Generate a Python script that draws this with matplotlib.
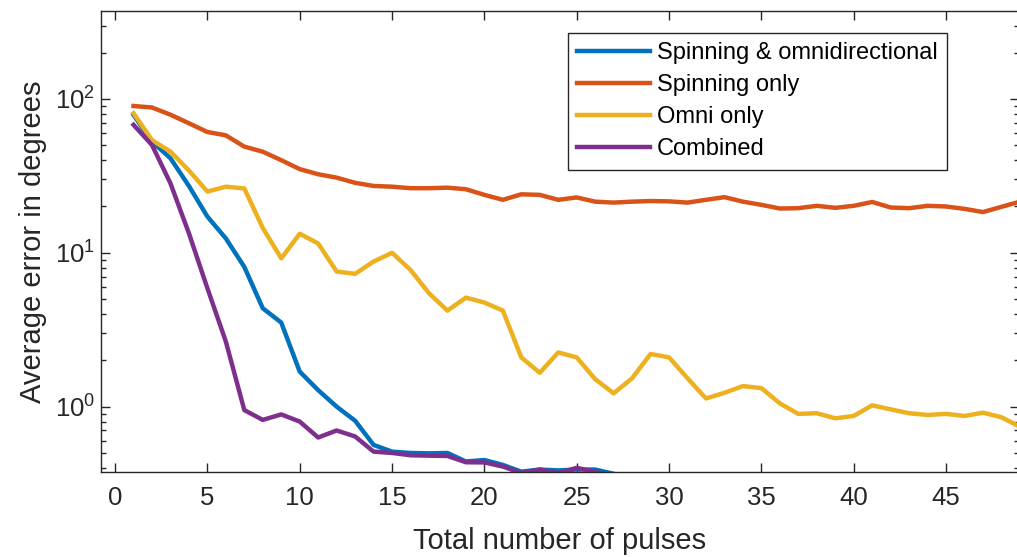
import numpy as np
import matplotlib.pyplot as plt

plt.rcParams['font.family'] = ['Liberation Sans', 'DejaVu Sans']
plt.rcParams['mathtext.fontset'] = 'custom'
plt.rcParams['mathtext.rm'] = 'Liberation Sans'

# number of pulses
pulses = np.arange(1, 50)

# average error (degrees)
spin_omni = [78.8, 52.8, 41.2, 27.2, 17.2, 12.4, 8.1, 4.36, 3.52, 1.69,
             1.28, 1.0, 0.81, 0.564, 0.51, 0.50, 0.497, 0.50, 0.44, 0.45,
             0.418, 0.378, 0.39, 0.385, 0.39, 0.39, 0.366]
spin_only = [90, 88, 79, 69.5, 61, 58, 49, 45.4, 40, 35,
             32.4, 30.8, 28.5, 27.2, 26.9, 26.3, 26.3, 26.5, 25.9, 23.8,
             22.1, 24.0, 23.8, 22.1, 22.9, 21.5, 21.2, 21.5, 21.7, 21.6,
             21.2, 22.1, 23.0, 21.5, 20.5, 19.4, 19.5, 20.2, 19.6, 20.2,
             21.4, 19.7, 19.5, 20.2, 20.0, 19.3, 18.4, 19.9, 21.5]
omni_only = [80.8, 54, 45.5, 34.3, 25, 26.9, 26.2, 14.5, 9.2, 13.3,
             11.5, 7.55, 7.3, 8.77, 10.0, 7.74, 5.46, 4.21, 5.11, 4.75,
             4.21, 2.09, 1.66, 2.25, 2.09, 1.51, 1.22, 1.53, 2.20, 2.09,
             1.53, 1.13, 1.23, 1.36, 1.32, 1.05, 0.897, 0.906, 0.84, 0.87,
             1.02, 0.96, 0.906, 0.883, 0.897, 0.87, 0.914, 0.853, 0.74]
combined = [67.9, 50.2, 28.3, 13.4, 5.89, 2.65, 0.95, 0.82, 0.89, 0.80,
            0.63, 0.70, 0.64, 0.51, 0.50, 0.483, 0.48, 0.478, 0.435, 0.434,
            0.408, 0.37, 0.39, 0.37, 0.40, 0.378, 0.35]

labels = ['Spinning & omnidirectional', 'Spinning only', 'Omni only', 'Combined']
colors = ['#0072BD', '#D95319', '#EDB120', '#7E2F8E']

fig = plt.figure(figsize=(10.17, 5.57), dpi=100)
ax = fig.add_axes([101/1017, 1-472/557, 918/1017, 461/557])

ax.plot(pulses[:len(spin_omni)], spin_omni, color=colors[0], lw=3.2, label=labels[0])
ax.plot(pulses, spin_only, color=colors[1], lw=3.2, label=labels[1])
ax.plot(pulses, omni_only, color=colors[2], lw=3.2, label=labels[2])
ax.plot(pulses[:len(combined)], combined, color=colors[3], lw=3.2, label=labels[3])

ax.set_yscale('log')
ax.set_ylim(0.376, 373)
ax.set_xlim(-0.76, 48.95)
ax.set_xticks(np.arange(0, 50, 5))

ax.set_xlabel('Total number of pulses', fontsize=21, color='#262626', labelpad=12)
ax.set_ylabel('Average error in degrees', fontsize=21, color='#262626', labelpad=6)

ax.tick_params(which='both', direction='in', top=True, right=True,
               labelsize=18.5, colors='#262626', width=1)
ax.tick_params(which='major', length=6.5)
ax.tick_params(which='minor', length=3.5)
ax.tick_params(axis='x', pad=10)
ax.tick_params(axis='y', pad=4)
for s in ax.spines.values():
    s.set_color('#262626')
    s.set_linewidth(1)

leg = ax.legend(loc='upper right', bbox_to_anchor=(947/1017, 1-33/557),
                bbox_transform=fig.transFigure, borderaxespad=0,
                fontsize=17, handlelength=3.1, handletextpad=0.28,
                labelspacing=0.42, fancybox=False, framealpha=1,
                borderpad=0.4)
leg.get_frame().set_edgecolor('#262626')
leg.get_frame().set_linewidth(1)

fig.savefig('out.png', dpi=100)
